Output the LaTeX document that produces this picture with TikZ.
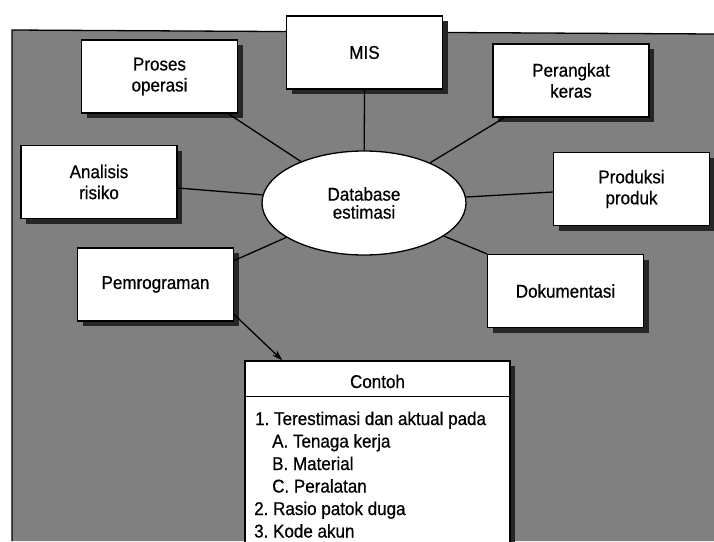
\documentclass[tikz,border=0pt]{standalone}
\usepackage{fontspec}
\setmainfont{Liberation Sans}[FakeStretch=0.92, FakeBold=0.6]
\usetikzlibrary{shapes.geometric,shadows,arrows.meta}
\frenchspacing
\begin{document}
\begin{tikzpicture}[x=1pt,y=-1pt,
  every node/.style={font=\fontsize{18.5}{21}\selectfont, text=black},
  shade box/.style={drop shadow={shadow xshift=5pt, shadow yshift=-5pt, fill=black!85, opacity=1}},
  card/.style={draw=black, line width=1.3pt, fill=white, minimum width=156pt,
    minimum height=73pt, inner sep=0pt, align=center, shade box},
  hub/.style={ellipse, draw=black, line width=1.3pt, fill=white, minimum width=204pt,
    minimum height=104pt, inner sep=0pt, align=center,
    font=\fontsize{18.5}{18}\selectfont},
  link/.style={draw=black, line width=1.3pt},
  item/.style={anchor=base west, inner sep=0pt},
]
\useasboundingbox (0,0) rectangle (714,541);
\clip (0,0) rectangle (714,541);

% page and textured panel
\fill[white] (0,0) rectangle (714,541);
\fill[black!50] (12,30) -- (714,34) -- (714,541) -- (12,541) -- cycle;
\draw[line width=1.3pt] (12,541) -- (12,30) -- (714,34);

% central store
\node[hub] (db) at (364,203) {Database\\estimasi};

% surrounding topics
\node[card] (proc) at (159.5,76.5) {Proses\\operasi};
\node[card] (mis)  at (364.5,52.5) {MIS};
\node[card] (hw)   at (571,80.5)   {Perangkat\\keras};
\node[card] (risk) at (99,182)     {Analisis\\risiko};
\node[card] (prod) at (631.5,189)  {Produksi\\produk};
\node[card] (doc)  at (565.5,291)  {Dokumentasi};
\node[card] (pem)  at (155.5,284.5) {Pemrograman};

% example panel
\node[draw=black, line width=1.3pt, fill=white, minimum width=265pt,
  minimum height=200pt, inner sep=0pt, shade box] (contoh) at (377.5,461) {};
\draw[link] ([yshift=-36pt]contoh.north west) -- ([yshift=-36pt]contoh.north east);
\node[anchor=base, inner sep=0pt] (title) at (377.5,388) {Contoh};
\foreach \px/\py/\txt [count=\i] in {
  255/425/{1. Terestimasi dan aktual pada},
  272/447.5/{A. Tenaga kerja},
  272/470/{B. Material},
  272/492.5/{C. Peralatan},
  254/515/{2. Rasio patok duga},
  254/537.5/{3. Kode akun}}
  \node[item] (line\i) at (\px,\py) {\txt};

% spokes
\draw[link] ([xshift=-10pt]proc.south east) -- (db);
\draw[link] (mis.south) -- (db);
\draw[link] ([xshift=12pt]hw.south west) -- (db);
\draw[link] ([yshift=-6pt]risk.east) -- (db);
\draw[link] ([yshift=-3pt]prod.west) -- (db);
\draw[link] (doc.north west) -- (db);
\draw[link] ([yshift=24pt]pem.east) -- (db);
\draw[link, -{Stealth[length=11pt,width=7pt]}] ([yshift=-30pt]pem.east) -- ([xshift=38pt]contoh.north west);
\end{tikzpicture}
\end{document}
